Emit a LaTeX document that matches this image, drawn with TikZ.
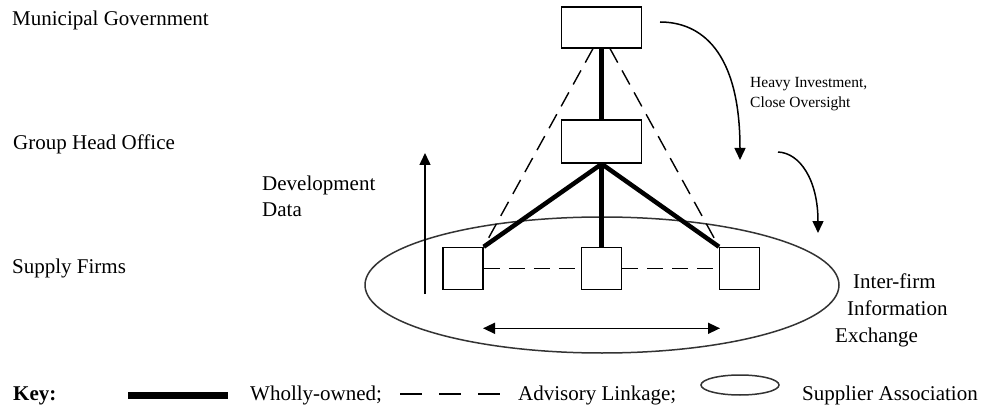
\documentclass[tikz,border=0pt]{standalone}
\usepackage{fontspec}
\setmainfont{Liberation Serif}
\usetikzlibrary{shapes.geometric,arrows.meta,calc}
\begin{document}
\begin{tikzpicture}[x=1pt,y=-1pt,
  lbl/.style={anchor=base west,inner sep=0pt,font=\fontsize{21}{25}\selectfont},
  smalllbl/.style={anchor=base west,inner sep=0pt,font=\fontsize{15.5}{19}\selectfont},
  orgbox/.style={draw,line width=1.5pt,minimum width=80pt,minimum height=41pt,inner sep=0pt},
  firmbox/.style={draw,line width=1.5pt,minimum width=40pt,minimum height=42pt,inner sep=0pt},
  owned/.style={line width=4.5pt},
  advisory/.style={line width=1.4pt,dash pattern=on 16pt off 9pt},
  tip/.tip={Triangle[length=12pt,width=11pt]},
  flow/.style={line width=1.5pt,-tip},
  twoway/.style={line width=1.5pt,tip-tip},
]
\useasboundingbox (0,0) rectangle (986,409);

% supplier association
\node[draw=black!80,ellipse,line width=1.5pt,minimum width=474pt,minimum height=136pt,inner sep=0pt] (assoc) at (602,285) {};

% organisations
\node[orgbox] (gov) at (601.7,27.3) {};
\node[orgbox,minimum height=43pt] (head) at (601.7,141.7) {};
\node[firmbox] (f1) at (463,268.5) {};
\node[firmbox] (f2) at (601.7,268.5) {};
\node[firmbox] (f3) at (739.7,268.5) {};

% ownership links
\draw[owned] (gov.south) -- (head.north);
\draw[owned] (head.south) -- (f1.north east);
\draw[owned] (head.south) -- (f2.north);
\draw[owned] (head.south) -- (f3.north west);

% advisory links
\draw[advisory] ($(gov.south)+(-8.7,0)$) -- (f1.north east);
\draw[advisory] ($(gov.south)+(8.3,0)$) -- (f3.north west);
\draw[advisory] (f1.east) -- (f2.west);
\draw[advisory] (f2.east) -- (f3.west);

% flows
\coordinate (devlo) at (425,294);
\coordinate (devhi) at (425,153);
\draw[flow] (devlo) -- (devhi);

\coordinate (xl) at (483,328.3);
\coordinate (xr) at (720,328.3);
\draw[twoway] (xl) -- (xr);

\coordinate (inv1s) at (660,22);
\coordinate (inv1e) at (740,160);
\draw[flow] (inv1s) .. controls (700,22) and (740,50) .. (inv1e);

\coordinate (inv2s) at (778,152);
\coordinate (inv2e) at (818,233);
\draw[flow] (inv2s) .. controls (800,153) and (818,180) .. (inv2e);

% level labels
\node[lbl] (lgov) at (12,26) {Municipal Government};
\node[lbl] (lhead) at (13,150) {Group Head Office};
\node[lbl] (lfirm) at (12,273) {Supply Firms};

\node[lbl] (dev1) at (262,190) {Development};
\node[lbl] (dev2) at (262,217) {Data};

\node[smalllbl] (inv1) at (750,88) {Heavy Investment,};
\node[smalllbl] (inv2) at (750,108) {Close Oversight};

\node[lbl] (ex1) at (853,288) {Inter-firm};
\node[lbl] (ex2) at (847,315) {Information};
\node[lbl] (ex3) at (835,342) {Exchange};

% key
\node[lbl,font=\fontsize{21}{25}\selectfont\bfseries] (key) at (13,400) {Key:};
\coordinate (k1a) at (128,395);
\coordinate (k1b) at (228,395);
\draw[line width=7pt] (k1a) -- (k1b);
\node[lbl] (kown) at (250,400) {Wholly-owned;};
\coordinate (k2a) at (400,394);
\coordinate (k2b) at (500,394);
\draw[line width=1.5pt,dash pattern=on 22pt off 17pt] (k2a) -- (k2b);
\node[lbl] (kadv) at (518,400) {Advisory Linkage;};
\node[draw=black!80,ellipse,line width=1.5pt,minimum width=78pt,minimum height=20pt,inner sep=0pt] (kell) at (740,385) {};
\node[lbl] (kassoc) at (802,400) {Supplier Association};
\end{tikzpicture}
\end{document}
